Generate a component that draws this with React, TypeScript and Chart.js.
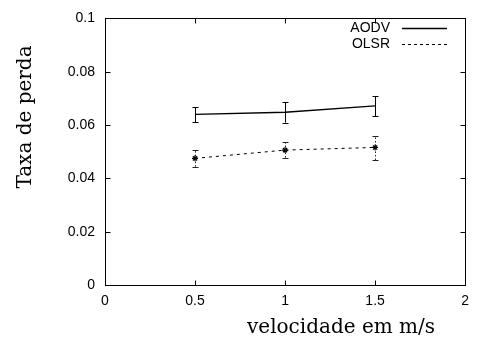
import React, { useEffect, useRef } from "react";
import { Chart, registerables } from "chart.js";

Chart.register(...registerables);

const speeds = [0.5, 1, 1.5];
const aodvMean = [0.064, 0.0648, 0.0672];
const aodvLow = [0.0611, 0.0609, 0.0633];
const aodvHigh = [0.0667, 0.0686, 0.0708];
const olsrMean = [0.0475, 0.0506, 0.0516];
const olsrLow = [0.0444, 0.0478, 0.0469];
const olsrHigh = [0.0506, 0.0535, 0.056];
const xTicks = [0, 0.5, 1, 1.5, 2];
const yTicks = [0, 0.02, 0.04, 0.06, 0.08, 0.1];
const seriesNames = ["AODV", "OLSR"];
const xTitle = "velocidade em m/s";
const yTitle = "Taxa de perda";

const framePlugin = {
  id: "frame",
  afterDatasetsDraw(chart: any) {
    const { ctx, chartArea: a, scales } = chart;
    const xs = scales.x;
    const ys = scales.y;
    ctx.save();
    // error bars
    const errs = [
      { low: aodvLow, high: aodvHigh, dash: [] as number[], color: "#000" },
      { low: olsrLow, high: olsrHigh, dash: [1.5, 2], color: "#222" },
    ];
    errs.forEach((e) => {
      ctx.strokeStyle = e.color;
      ctx.lineWidth = 1;
      speeds.forEach((s, i) => {
        const px = Math.round(xs.getPixelForValue(s)) + 0.5;
        const y1 = ys.getPixelForValue(e.low[i]);
        const y2 = ys.getPixelForValue(e.high[i]);
        ctx.setLineDash(e.dash);
        ctx.beginPath();
        ctx.moveTo(px, y1);
        ctx.lineTo(px, y2);
        ctx.stroke();
        ctx.setLineDash([]);
        ctx.beginPath();
        ctx.moveTo(px - 3, Math.round(y1) + 0.5);
        ctx.lineTo(px + 3, Math.round(y1) + 0.5);
        ctx.moveTo(px - 3, Math.round(y2) + 0.5);
        ctx.lineTo(px + 3, Math.round(y2) + 0.5);
        ctx.stroke();
      });
    });
    // frame
    ctx.setLineDash([]);
    ctx.strokeStyle = "#000";
    ctx.lineWidth = 1;
    const l = Math.round(a.left) + 0.5;
    const r = Math.round(a.right) + 0.5;
    const t = Math.round(a.top) + 0.5;
    const b = Math.round(a.bottom) + 0.5;
    ctx.strokeRect(l, t, r - l, b - t);
    ctx.beginPath();
    xTicks.forEach((v) => {
      const px = Math.round(xs.getPixelForValue(v)) + 0.5;
      ctx.moveTo(px, b);
      ctx.lineTo(px, b - 5);
      ctx.moveTo(px, t);
      ctx.lineTo(px, t + 5);
    });
    yTicks.forEach((v) => {
      const py = Math.round(ys.getPixelForValue(v)) + 0.5;
      ctx.moveTo(l, py);
      ctx.lineTo(l + 5, py);
      ctx.moveTo(r, py);
      ctx.lineTo(r - 5, py);
    });
    ctx.stroke();
    // legend
    ctx.font = "14px 'Liberation Sans', Arial, sans-serif";
    ctx.fillStyle = "#000";
    ctx.textAlign = "right";
    ctx.textBaseline = "middle";
    const ly = [28, 44];
    seriesNames.forEach((n, i) => {
      ctx.fillText(n, 390, ly[i]);
      ctx.beginPath();
      ctx.setLineDash(i === 0 ? [] : [3, 3]);
      ctx.lineWidth = i === 0 ? 1.3 : 1;
      ctx.moveTo(402, ly[i] + 0.5);
      ctx.lineTo(447, ly[i] + 0.5);
      ctx.stroke();
    });
    ctx.setLineDash([]);
    // titles
    ctx.font = "20px 'DejaVu Serif', 'Liberation Serif', serif";
    ctx.textAlign = "center";
    ctx.textBaseline = "alphabetic";
    ctx.fillText(xTitle, 341, 333);
    ctx.save();
    ctx.translate(31, 117);
    ctx.rotate(-Math.PI / 2);
    ctx.fillText(yTitle, 0, 0);
    ctx.restore();
    ctx.restore();
  },
};

export default function App() {
  const ref = useRef<HTMLCanvasElement>(null);
  useEffect(() => {
    document.body.style.margin = "0";
    const chart = new Chart(ref.current!, {
      type: "line",
      data: {
        datasets: [
          {
            label: seriesNames[0],
            data: speeds.map((s, i) => ({ x: s, y: aodvMean[i] })),
            borderColor: "#000",
            borderWidth: 1.3,
            pointRadius: 0,
            fill: false,
          },
          {
            label: seriesNames[1],
            data: speeds.map((s, i) => ({ x: s, y: olsrMean[i] })),
            borderColor: "#000",
            borderWidth: 1,
            borderDash: [3, 4],
            pointStyle: "star",
            pointRadius: 3,
            pointBorderColor: "#000",
            pointBorderWidth: 1.2,
            fill: false,
          },
        ],
      },
      options: {
        animation: false,
        responsive: false,
        plugins: { legend: { display: false }, tooltip: { enabled: false } },
        layout: { padding: { top: 15, right: 10, left: 0, bottom: 0 } },
        scales: {
          x: {
            type: "linear",
            min: 0,
            max: 2,
            afterBuildTicks: (s: any) => {
              s.ticks = xTicks.map((v) => ({ value: v }));
            },
            afterFit: (s: any) => {
              s.height = 56;
            },
            grid: { display: false, drawTicks: false },
            border: { display: false },
            ticks: {
              padding: 8,
              color: "#000",
              font: { family: "'Liberation Sans', Arial, sans-serif", size: 14 },
              maxRotation: 0,
              callback: (v: any) => String(v),
            },
          },
          y: {
            type: "linear",
            min: 0,
            max: 0.1,
            afterBuildTicks: (s: any) => {
              s.ticks = yTicks.map((v) => ({ value: v }));
            },
            afterFit: (s: any) => {
              s.width = 105;
            },
            grid: { display: false, drawTicks: false },
            border: { display: false },
            ticks: {
              padding: 10,
              color: "#000",
              font: { family: "'Liberation Sans', Arial, sans-serif", size: 14 },
              callback: (v: any) => String(Math.round(v * 100) / 100),
            },
          },
        },
      },
      plugins: [framePlugin],
    } as any);
    return () => chart.destroy();
  }, []);
  return (
    <div style={{ position: "absolute", left: 0, top: 0, width: 477, height: 341 }}>
      <canvas ref={ref} width={477} height={341} style={{ width: 477, height: 341 }} />
    </div>
  );
}
